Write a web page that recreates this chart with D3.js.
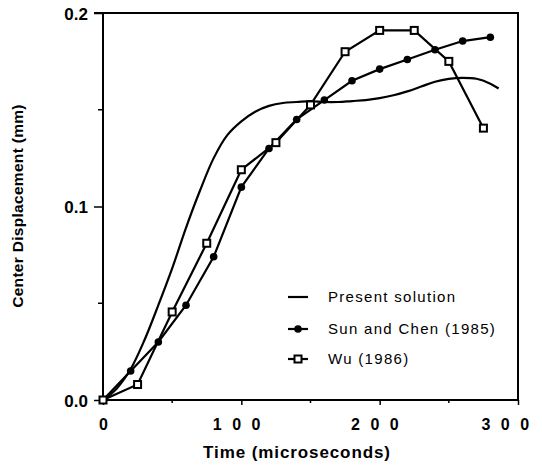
<!DOCTYPE html>
<html>
<head>
<meta charset="utf-8">
<script src="https://cdn.jsdelivr.net/npm/d3@7/dist/d3.min.js"></script>
<style>
  body { margin: 0; background: #fff; }
  svg { display: block; }
  text { font-family: "Liberation Sans", Arial, sans-serif; fill: #000; }
</style>
</head>
<body>
<svg id="chart" width="542" height="475"></svg>
<script>
// ---- data ----
const presentT = [0, 10, 20, 30, 40, 50, 60, 70, 80, 90, 100, 110, 120, 130, 140, 150, 160, 170, 180, 190, 200, 210, 220, 230, 240, 250, 260, 270, 280, 286];
const presentV = [0, 0.006, 0.016, 0.031, 0.049, 0.068, 0.089, 0.108, 0.125, 0.137, 0.144, 0.149, 0.152, 0.1535, 0.154, 0.1545, 0.154, 0.154, 0.1545, 0.155, 0.156, 0.1575, 0.1595, 0.162, 0.1645, 0.166, 0.1665, 0.166, 0.1635, 0.161];

const sunT = [0, 20, 40, 60, 80, 100, 120, 140, 160, 180, 200, 220, 240, 260, 280];
const sunV = [0, 0.015, 0.030, 0.049, 0.074, 0.110, 0.130, 0.145, 0.155, 0.165, 0.171, 0.176, 0.181, 0.1855, 0.1875];

const wuT = [0, 25, 50, 75, 100, 125, 150, 175, 200, 225, 250, 275];
const wuV = [0, 0.008, 0.0455, 0.081, 0.119, 0.133, 0.1525, 0.180, 0.191, 0.191, 0.175, 0.1405];

const xTicks = [0, 100, 200, 300];
const xMinor = [50, 150, 250];
const yTicks = [0, 0.1, 0.2];
const yMinor = [0.05, 0.15];
const yTickLabels = ["0.0", "0.1", "0.2"];

const legendLabels = ["Present  solution", "Sun and Chen (1985)", "Wu  (1986)"];
const xTitle = "Time (microseconds)";
const yTitle = "Center Displacement (mm)";

// ---- chart ----
const svg = d3.select("#chart");
const x = d3.scaleLinear().domain([0, 300]).range([103, 518]);
const y = d3.scaleLinear().domain([0, 0.2]).range([400, 13]);

// frame (top + right)
svg.append("path")
  .attr("d", `M${x(0) - 9},${y(0.2)} H${x(300)} V${y(0)}`)
  .attr("fill", "none").attr("stroke", "#000").attr("stroke-width", 2);

// y axis
const yAx = svg.append("g").attr("transform", `translate(${x(0)},0)`)
  .call(d3.axisLeft(y).tickValues(yTicks).tickSize(9).tickPadding(6)
        .tickFormat((d, i) => yTickLabels[i]));
yAx.select(".domain").attr("stroke-width", 2).attr("d", `M0,${y(0.2)}V${y(0)}`);
yAx.selectAll(".tick line").attr("stroke-width", 1.5);
yAx.selectAll(".tick text").style("font-size", "17px").style("font-weight", "bold").attr("dy", "0.36em");
yAx.selectAll(".minor").data(yMinor).enter().append("line")
  .attr("class", "minor").attr("x1", -5).attr("x2", 0)
  .attr("y1", d => y(d)).attr("y2", d => y(d)).attr("stroke", "#000").attr("stroke-width", 1.5);

// x axis
const xAx = svg.append("g").attr("transform", `translate(0,${y(0)})`)
  .call(d3.axisBottom(x).tickValues(xTicks).tickSize(5).tickPadding(14)
        .tickFormat(d => String(d)));
xAx.select(".domain").attr("stroke-width", 2).attr("d", `M${x(0)},0H${x(300)}`);
xAx.selectAll(".tick line").attr("stroke-width", 1.5);
xAx.selectAll(".tick text").style("font-size", "16px").style("font-weight", "bold")
  .style("letter-spacing", d => d === 0 ? "0px" : "10.5px")
  .attr("dx", d => d === 0 ? 0 : (d === 300 ? -8 : 0));
xAx.selectAll(".minor").data(xMinor).enter().append("line")
  .attr("class", "minor").attr("y1", 0).attr("y2", 3)
  .attr("x1", d => x(d)).attr("x2", d => x(d)).attr("stroke", "#000").attr("stroke-width", 1.5);

// axis titles
svg.append("text").attr("x", 297).attr("y", 458).attr("text-anchor", "middle")
  .style("font-size", "17px").style("font-weight", "bold").style("letter-spacing", "0.9px").text(xTitle);
svg.append("text").attr("transform", `translate(23,206) rotate(-90)`).attr("text-anchor", "middle")
  .style("font-size", "15.5px").style("font-weight", "bold").style("letter-spacing", "0.3px").text(yTitle);

// lines
const presentData = presentT.map((t, i) => [t, presentV[i]]);
const sunData = sunT.map((t, i) => [t, sunV[i]]);
const wuData = wuT.map((t, i) => [t, wuV[i]]);

const smooth = d3.line().x(d => x(d[0])).y(d => y(d[1])).curve(d3.curveCatmullRom.alpha(0.5));
const straight = d3.line().x(d => x(d[0])).y(d => y(d[1]));

svg.append("path").datum(presentData).attr("d", smooth)
  .attr("fill", "none").attr("stroke", "#000").attr("stroke-width", 2.2);
svg.append("path").datum(sunData).attr("d", straight)
  .attr("fill", "none").attr("stroke", "#000").attr("stroke-width", 2.2);
svg.append("path").datum(wuData).attr("d", straight)
  .attr("fill", "none").attr("stroke", "#000").attr("stroke-width", 2.2);

svg.selectAll(".sun").data(sunData).enter().append("circle")
  .attr("class", "sun").attr("cx", d => x(d[0])).attr("cy", d => y(d[1])).attr("r", 3.8)
  .attr("fill", "#000");
svg.selectAll(".wu").data(wuData).enter().append("rect")
  .attr("class", "wu").attr("x", d => x(d[0]) - 3.5).attr("y", d => y(d[1]) - 3.5)
  .attr("width", 7).attr("height", 7).attr("fill", "#fff").attr("stroke", "#000").attr("stroke-width", 2);

// legend
const legY = [297, 329, 359];
const lg = svg.append("g");
legendLabels.forEach((lab, i) => {
  lg.append("line").attr("x1", 288).attr("x2", 308).attr("y1", legY[i]).attr("y2", legY[i])
    .attr("stroke", "#000").attr("stroke-width", 2.2);
  if (i === 1) lg.append("circle").attr("cx", 298).attr("cy", legY[i]).attr("r", 3.8).attr("fill", "#000");
  if (i === 2) lg.append("rect").attr("x", 294.5).attr("y", legY[i] - 3.5).attr("width", 7).attr("height", 7)
    .attr("fill", "#fff").attr("stroke", "#000").attr("stroke-width", 2);
  lg.append("text").attr("x", 328).attr("y", legY[i]).attr("dy", "0.35em")
    .style("font-size", "15px").style("letter-spacing", "1.3px").text(lab);
});
</script>
</body>
</html>
